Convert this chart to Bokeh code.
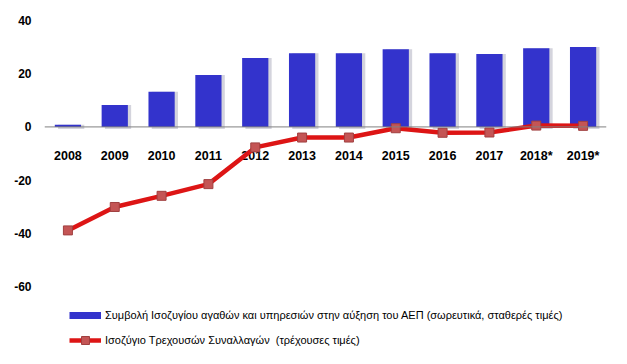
from bokeh.plotting import figure
from bokeh.models import Span, FixedTicker, Range1d, Legend, LegendItem, ColumnDataSource, PrintfTickFormatter
from bokeh.transform import dodge
from bokeh.core.properties import value
from bokeh.embed import file_html
from bokeh.resources import INLINE

years = ["2008", "2009", "2010", "2011", "2012", "2013", "2014", "2015", "2016", "2017", "2018*", "2019*"]
goods_services = [0.8, 8.2, 13.2, 19.5, 25.9, 27.7, 27.7, 29.2, 27.7, 27.4, 29.6, 30.0]
current_account = [-38.9, -30.1, -25.9, -21.5, -7.7, -4.0, -4.0, -0.5, -2.2, -2.1, 0.5, 0.4]
y_ticks = [-60, -40, -20, 0, 20, 40]
label_bars = "Συμβολή Ισοζυγίου αγαθών και υπηρεσιών στην αύξηση του ΑΕΠ (σωρευτικά, σταθερές τιμές)"
label_line = "Ισοζύγιο Τρεχουσών Συναλλαγών  (τρέχουσες τιμές)"

src = ColumnDataSource(dict(x=years, bars=goods_services, line=current_account, zero=[0] * len(years)))

p = figure(width=611, height=356, x_range=years, y_range=Range1d(-86.3, 40),
           output_backend="svg", toolbar_location=None,
           min_border_left=44, min_border_right=5, min_border_top=20, min_border_bottom=0)
p.outline_line_color = None
p.grid.visible = False
p.xaxis.visible = False

ya = p.yaxis[0]
ya.ticker = FixedTicker(ticks=y_ticks)
ya.formatter = PrintfTickFormatter(format="%d")
ya.axis_line_color = None
ya.major_tick_line_color = None
ya.minor_tick_line_color = None
ya.major_label_text_font = "Liberation Sans"
ya.major_label_text_font_style = "bold"
ya.major_label_text_font_size = "12px"
ya.major_label_text_color = "#000000"
ya.major_label_standoff = 7

# bar shadows
p.vbar(x=dodge("x", 0.07, range=p.x_range), top="bars", bottom=-0.8, width=0.56, source=src,
       fill_color="#555577", fill_alpha=0.25, line_color=None)
bars = p.vbar(x="x", top="bars", width=0.56, source=src, fill_color="#3333CC", line_color=None)

p.add_layout(Span(location=0, dimension="width", line_color="#808080", line_width=1))

p.text(x="x", y="zero", text="x", source=src, y_offset=29,
       text_align="center", text_baseline="middle",
       text_font=value("Liberation Sans"), text_font_style="bold",
       text_font_size="12.5px", text_color="#000000")

ln = p.line(x="x", y="line", source=src, line_color="#DD1515", line_width=4.5)
mk = p.scatter(x="x", y="line", source=src, marker="square", size=9,
               fill_color="#C45555", line_color="#A04040", line_width=1)

leg_src = ColumnDataSource(dict(x=years[:1], y=[float("nan")]))
leg_bar = p.line(x="x", y="y", source=leg_src, line_color="#3333CC", line_width=7)

legend = Legend(items=[LegendItem(label=label_bars, renderers=[leg_bar]),
                       LegendItem(label=label_line, renderers=[ln, mk])],
                location=(25, 6), orientation="vertical",
                glyph_width=32, glyph_height=20, label_height=20, spacing=5,
                padding=0, margin=0, label_standoff=4,
                border_line_color=None, background_fill_alpha=0,
                label_text_font="Liberation Sans", label_text_font_size="11px",
                label_text_color="#000000")
p.add_layout(legend)

open("out.html", "w").write(file_html(p, INLINE))
